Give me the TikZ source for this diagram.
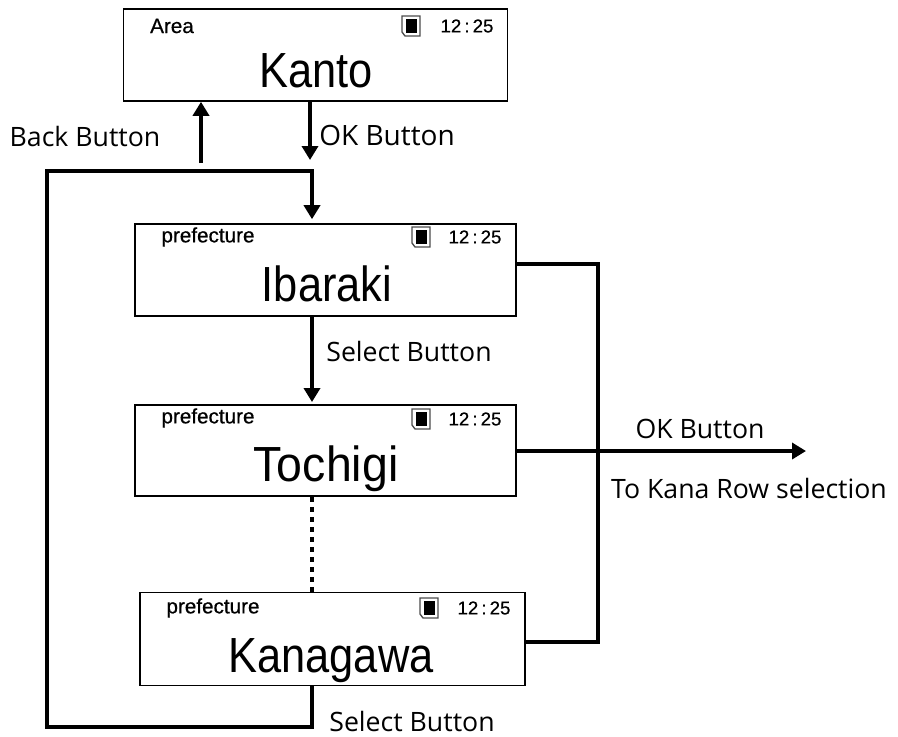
\documentclass[tikz,border=0pt]{standalone}
\usepackage{fontspec}
\setmainfont{Open Sans}
\newfontfamily\screenfont[FakeStretch=0.88]{Liberation Sans}
\newfontfamily\headfont[FakeBold=0.6]{Liberation Sans}
\usetikzlibrary{arrows.meta}
\tikzset{
    screen/.style={draw, line width=1.2pt, fill=white, inner sep=0pt},
    title/.style={font=\screenfont\fontsize{37}{37}\selectfont, inner sep=0pt},
    head/.style={font=\headfont\fontsize{15.5}{15.5}\selectfont, inner sep=0pt, text=black},
    clock/.style={font=\headfont\fontsize{14}{14}\selectfont, inner sep=0pt, text=black},
    caption/.style={font=\fontsize{20}{20}\selectfont, inner sep=0pt},
    wire/.style={line width=3.7pt, line join=miter},
    arrow/.style={wire, -{Triangle[length=10.5pt, width=12pt]}},
    cell/.pic={
        \draw[line width=1pt, draw=black!70, fill=white] (-9,-10) -- (9,-10) -- (9,10) -- (-6,10) -- (-9,6) -- (-9,-4) -- cycle;
        \fill (-5,-7) rectangle (6,7);
    }
}
\begin{document}
\begin{tikzpicture}[x=0.75pt, y=-0.75pt]
    \useasboundingbox (0,0) rectangle (898,736);
    % screens
    \node[screen, minimum width=288pt, minimum height=69pt] (kanto) at (315.5,55) {};
    \node[screen, minimum width=286pt, minimum height=69pt] (ibaraki) at (325.5,270) {};
    \node[screen, minimum width=286pt, minimum height=68.5pt] (tochigi) at (325.5,450.5) {};
    \node[screen, minimum width=289pt, minimum height=70pt] (kanagawa) at (332.5,639) {};
    % screen contents
    \node[title] (t1) at (316,71) {Kanto};
    \node[title] (t2) at (327,284) {Ibaraki};
    \node[title, xscale=1.07] (t3) at (326,469) {Tochigi};
    \node[title] (t4) at (331,661) {Kanagawa};
    \node[head] (h1) at (172,26) {Area};
    \node[head] (h2) at (208,237) {prefecture};
    \node[head] (h3) at (208,418) {prefecture};
    \node[head] (h4) at (213,608) {prefecture};
    \node[clock] (c1) at (467,26) {12\,:\,25};
    \node[clock] (c2) at (475,237) {12\,:\,25};
    \node[clock] (c3) at (475,419) {12\,:\,25};
    \node[clock] (c4) at (484,608) {12\,:\,25};
    \pic at (411,26) {cell};
    \pic at (421,237) {cell};
    \pic at (421,419) {cell};
    \pic at (429,608) {cell};
    % free ends
    \coordinate (backend) at (201,163);
    \coordinate (okend) at (310,160);
    \coordinate (topleft) at (47,171);
    \coordinate (topmid) at (312,171);
    \coordinate (botleft) at (47,727);
    \coordinate (botmid) at (312,727);
    \coordinate (busup) at (598,264);
    \coordinate (busdown) at (598,642);
    \coordinate (out) at (806,451);
    % connectors
    \draw[arrow] (backend) -- (backend |- kanto.south);
    \draw[arrow] (okend |- kanto.south) -- (okend);
    \draw[arrow, shorten >=3pt] (botmid |- kanagawa.south) -- (botmid) -- (botleft) -- (topleft) -- (topmid) -- (topmid |- ibaraki.north);
    \draw[arrow, shorten >=1.5pt] (topmid |- ibaraki.south) -- (topmid |- tochigi.north);
    \draw[wire, dash pattern=on 4pt off 3.5pt] (topmid |- tochigi.south) -- (topmid |- kanagawa.north);
    \draw[wire] (busup -| ibaraki.east) -- (busup) -- (busdown) -- (busdown -| kanagawa.east);
    \draw[arrow] (out -| tochigi.east) -- (out);
    % captions
    \node[caption, font=\fontsize{21}{21}\selectfont] (l2) at (387,135) {OK Button};
    \node[caption] (l1) at (85,136) {Back Button};
    \node[caption] (l3) at (409,351) {Select Button};
    \node[caption] (l4) at (700,429) {OK Button};
    \node[caption] (l5) at (749,488) {To Kana Row selection};
    \node[caption] (l6) at (412,721) {Select Button};
\end{tikzpicture}
\end{document}
